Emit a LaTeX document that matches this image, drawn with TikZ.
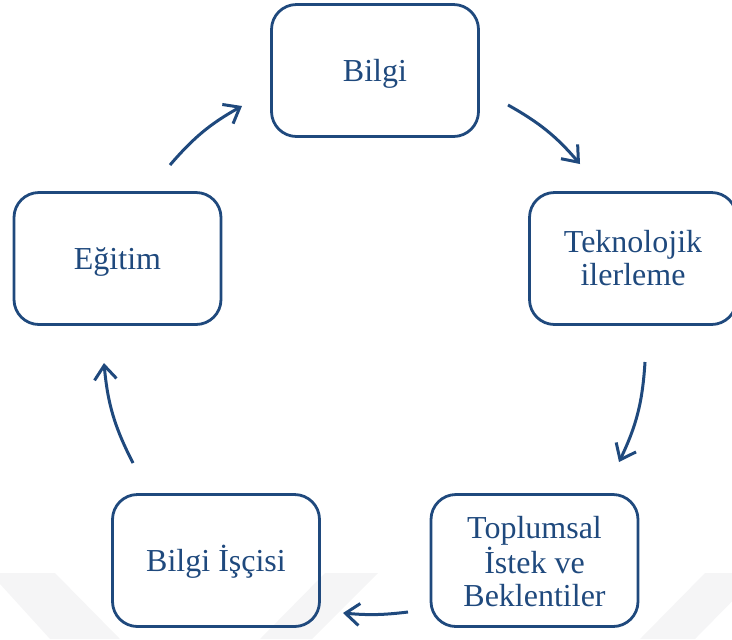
\documentclass[tikz,border=0pt]{standalone}
\usepackage{fontspec}
\setmainfont{Liberation Serif}
\usetikzlibrary{arrows.meta}
\definecolor{navy}{RGB}{31,73,125}
\definecolor{faint}{RGB}{245,245,246}
\begin{document}
\begin{tikzpicture}[x=0.5pt,y=-0.5pt,
  stage/.style={draw=navy, line width=1.4pt, rounded corners=12.5pt,
    minimum width=103.5pt, minimum height=66pt, inner sep=0pt,
    align=center, text=navy, font=\fontsize{16}{16.5}\selectfont,
    execute at begin node={\rule{0pt}{14.5pt}},
    execute at end node={\rule[-4pt]{0pt}{4pt}}},
  flow/.style={draw=navy, line width=1.5pt,
    -{Straight Barb[length=7pt,width=11pt,line width=1.5pt]}}]
\useasboundingbox (0,0) rectangle (732,639);

% light background chevrons
\fill[faint] (-10,573) -- (55,573) -- (120,639) -- (50,639) -- cycle;
\fill[faint] (325,573) -- (378,573) -- (312,639) -- (260,639) -- cycle;
\fill[faint] (705,573) -- (760,573) -- (695,639) -- (640,639) -- cycle;

% the five stages of the cycle (struts on the first line set the block's top)
\node[stage] (bilgi) at (375,70.5) {Bilgi};
\node[stage] (tekno) at (633,258.5) {\rule{0pt}{14.5pt}Teknolojik\\ilerleme};
\node[stage] (toplum) at (534.5,560.5) {\rule{0pt}{16.3pt}Toplumsal\\İstek ve\\Beklentiler};
\node[stage] (isci) at (216,560.5) {Bilgi İşçisi};
\node[stage] (egitim) at (117.5,258.5) {Eğitim};

% arrow ends between the stages
\coordinate (a1s) at (508,105);  \coordinate (a1e) at (580,164);
\coordinate (a2s) at (645,362);  \coordinate (a2e) at (619,462);
\coordinate (a3s) at (408,612);  \coordinate (a3e) at (343,613);
\coordinate (a4s) at (133,463);  \coordinate (a4e) at (104,363);
\coordinate (a5s) at (170,165);  \coordinate (a5e) at (242,106);

\draw[flow] (a1s) to[bend left=10] (a1e);
\draw[flow] (a2s) to[bend left=11] (a2e);
\draw[flow] (a3s) to[bend left=6] (a3e);
\draw[flow] (a4s) to[bend left=11] (a4e);
\draw[flow] (a5s) to[bend left=10] (a5e);
\end{tikzpicture}
\end{document}
